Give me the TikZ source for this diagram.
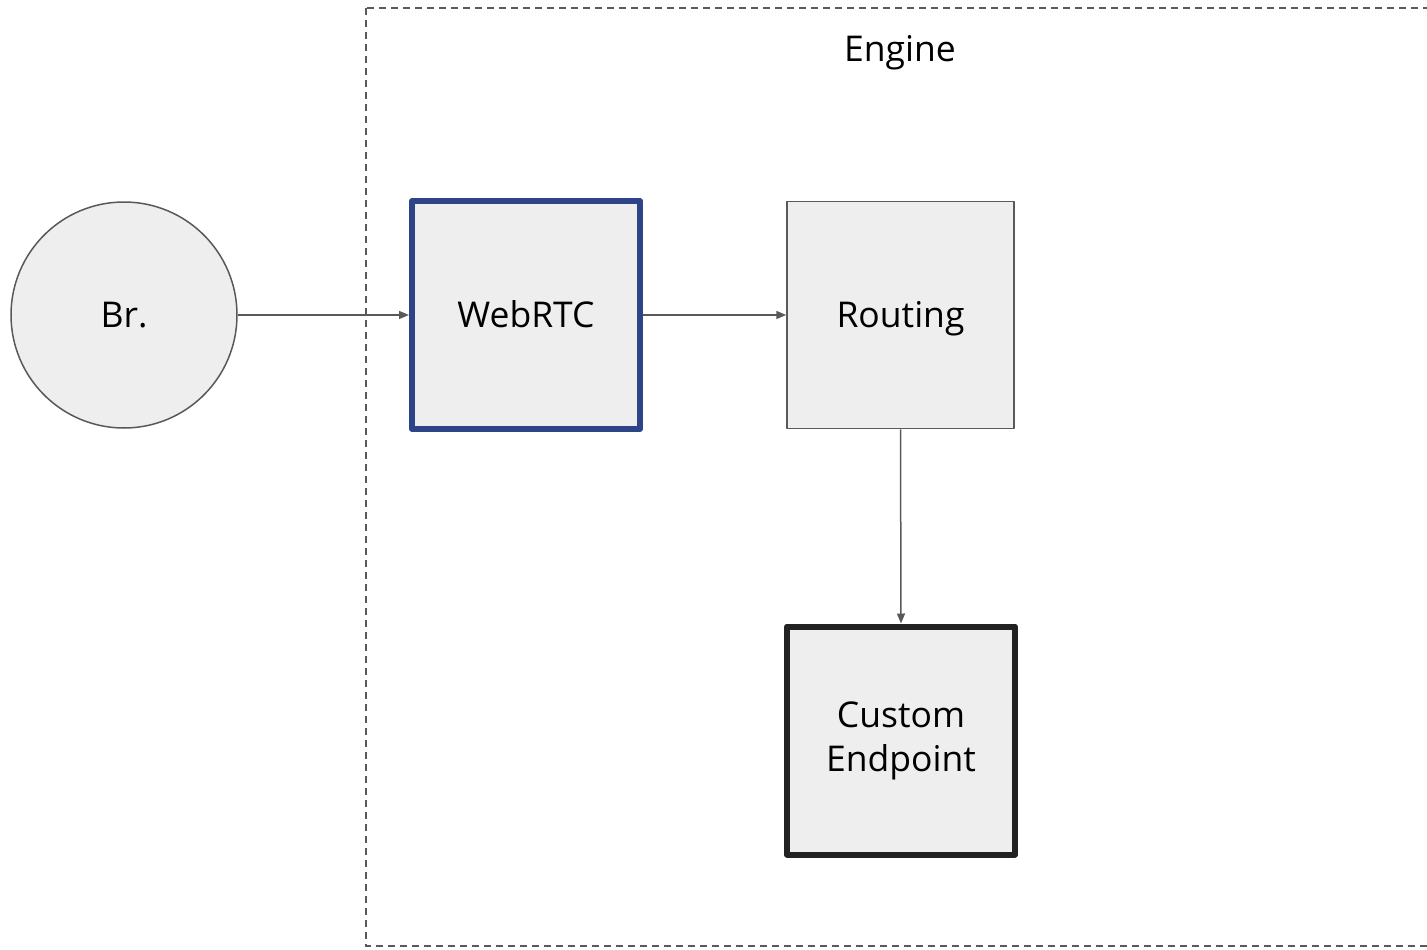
\documentclass[tikz,border=0pt]{standalone}
\usepackage{fontspec}
\setmainfont{Open Sans}
\usetikzlibrary{arrows.meta}
\definecolor{boxfill}{HTML}{EEEEEE}
\definecolor{linegray}{HTML}{595959}
\definecolor{rtcblue}{HTML}{2E4488}
\definecolor{darkline}{HTML}{222222}
\tikzset{
  lbl/.style={font=\fontsize{35.5}{44}\selectfont, text=black},
  sqbox/.style={lbl, fill=boxfill, minimum width=#1, minimum height=#1, inner sep=0pt, align=center, line join=round},
  conn/.style={draw=linegray, line width=1.5pt, -{Triangle[length=10pt,width=8pt]}}
}
\begin{document}
\begin{tikzpicture}[x=1pt,y=-1pt]
\useasboundingbox (0,0) rectangle (1427,950);
\begin{scope}
\clip (0,0) rectangle (1427,950);
\draw[linegray, line width=1.5pt, dash pattern=on 7pt off 5pt] (366,8) rectangle (1460,946);
\end{scope}
\node[lbl, anchor=base] (engine) at (900,62) {Engine};
\node[lbl, circle, draw=linegray, line width=1.5pt, fill=boxfill, minimum size=226pt, inner sep=0pt, text height=25pt, text depth=0pt] (br) at (124,315) {Br.};
\node[sqbox=228pt, draw=rtcblue, line width=6pt, text height=25pt, text depth=0pt] (rtc) at (526,315) {WebRTC};
\node[sqbox=227pt, draw=linegray, line width=1.5pt, text height=25pt, text depth=0pt] (rt) at (900.5,315) {Routing};
\node[sqbox=228pt, draw=darkline, line width=6pt] (ce) at (901,740.5) {Custom\\Endpoint};
\draw[conn] (br.east) -- (rtc.west);
\draw[conn] (rtc.east) -- (rt.west);
\draw[conn] (rt.south) -- (ce.north);
\end{tikzpicture}
\end{document}
